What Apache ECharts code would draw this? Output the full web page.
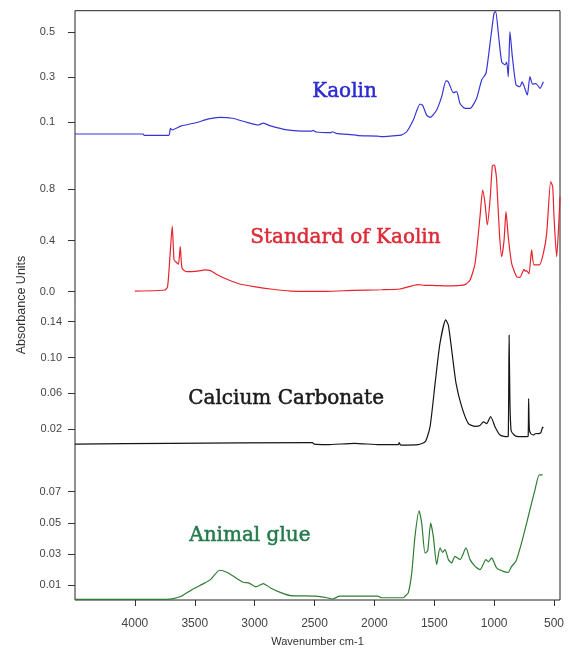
<!DOCTYPE html>
<html>
<head>
<meta charset="utf-8">
<script src="https://cdn.jsdelivr.net/npm/echarts@6/dist/echarts.min.js"></script>
<style>html,body{margin:0;padding:0;background:#fff}#c{width:570px;height:653px}</style>
</head>
<body>
<div id="c"></div>
<script>
// ---- data: [wavenumber cm-1, absorbance] ----
const kaolin = [[4500,0.048],[3931,0.048],[3922,0.042],[3718,0.042],[3703,0.073],[3688,0.066],[3612,0.084],[3490,0.098],[3384,0.115],[3293,0.122],[3186,0.118],[3065,0.100],[2973,0.088],[2928,0.096],[2867,0.084],[2730,0.066],[2608,0.061],[2523,0.061],[2511,0.064],[2487,0.057],[2365,0.054],[2350,0.058],[2320,0.051],[2168,0.044],[2137,0.041],[1970,0.039],[1940,0.036],[1787,0.042],[1772,0.044],[1730,0.058],[1675,0.110],[1619,0.181],[1597,0.175],[1563,0.132],[1535,0.122],[1480,0.155],[1438,0.214],[1402,0.284],[1383,0.280],[1341,0.232],[1313,0.236],[1285,0.184],[1243,0.162],[1201,0.162],[1146,0.207],[1104,0.288],[1068,0.318],[1034,0.451],[1001,0.585],[987,0.592],[965,0.496],[937,0.369],[909,0.355],[895,0.368],[882,0.303],[868,0.503],[848,0.392],[817,0.266],[784,0.258],[767,0.280],[751,0.262],[723,0.221],[701,0.303],[679,0.270],[651,0.272],[617,0.251],[589,0.280]];
const stdKaolin = [[4000,0.005],[3749,0.013],[3727,0.039],[3709,0.248],[3688,0.513],[3673,0.25],[3655,0.23],[3636,0.216],[3621,0.352],[3606,0.183],[3566,0.156],[3475,0.161],[3414,0.17],[3369,0.165],[3308,0.13],[3232,0.097],[3125,0.06],[3004,0.039],[2852,0.019],[2700,0.005],[2396,0.003],[2183,0.01],[1940,0.015],[1787,0.021],[1635,0.055],[1582,0.05],[1483,0.048],[1396,0.045],[1301,0.048],[1243,0.055],[1201,0.091],[1159,0.222],[1118,0.586],[1096,0.794],[1076,0.69],[1057,0.521],[1034,0.716],[1015,0.982],[1000,0.99],[993,0.977],[979,0.873],[956,0.456],[937,0.273],[917,0.404],[901,0.625],[882,0.43],[854,0.222],[812,0.117],[784,0.112],[768,0.14],[751,0.175],[740,0.16],[729,0.165],[709,0.14],[687,0.326],[667,0.209],[623,0.209],[589,0.3],[561,0.456],[528,0.86],[511,0.82],[500,0.586],[478,0.273],[464,0.456],[450,0.742]];
const calcium = [[4500,0.0032],[3703,0.004],[2517,0.0047],[2502,0.003],[2396,0.0025],[2168,0.004],[1955,0.0025],[1800,0.0025],[1793,0.0047],[1781,0.002],[1635,0.0025],[1575,0.0058],[1535,0.0226],[1493,0.071],[1452,0.116],[1404,0.142],[1382,0.136],[1354,0.108],[1318,0.071],[1271,0.045],[1215,0.026],[1159,0.023],[1118,0.024],[1090,0.028],[1062,0.026],[1029,0.034],[993,0.0226],[951,0.0133],[896,0.0114],[882,0.012],[875,0.125],[868,0.05],[858,0.018],[835,0.0136],[812,0.0118],[729,0.0114],[716,0.012],[712,0.054],[706,0.02],[695,0.015],[673,0.0133],[650,0.015],[631,0.0148],[610,0.016],[595,0.022],[590,0.021]];
const glue = [[4500,0.001],[3734,0.001],[3688,0.0013],[3612,0.003],[3521,0.0073],[3430,0.0109],[3369,0.0136],[3293,0.0196],[3232,0.0183],[3156,0.0147],[3095,0.0119],[3050,0.0115],[2989,0.009],[2928,0.0111],[2867,0.0083],[2776,0.0051],[2700,0.0034],[2487,0.003],[2396,0.002],[2350,0.0012],[2289,0.003],[1970,0.003],[1940,0.002],[1757,0.002],[1744,0.003],[1717,0.0051],[1688,0.0179],[1661,0.0413],[1627,0.0577],[1605,0.0498],[1577,0.0307],[1555,0.032],[1530,0.0498],[1508,0.0413],[1480,0.0232],[1452,0.0339],[1430,0.031],[1410,0.0328],[1382,0.0264],[1355,0.0243],[1327,0.0285],[1285,0.0264],[1235,0.0339],[1201,0.0264],[1159,0.0221],[1118,0.02],[1068,0.0264],[1048,0.025],[1021,0.0275],[979,0.0211],[923,0.0189],[882,0.0183],[854,0.0221],[818,0.0253],[771,0.0371],[715,0.054],[659,0.0711],[623,0.0807],[595,0.0807]];

const xTicks = [4000,3500,3000,2500,2000,1500,1000,500];
const kaolinTicks = [0.1,0.3,0.5];
const stdTicks = [0.0,0.4,0.8];
const calciumTicks = [0.02,0.06,0.10,0.14];
const glueTicks = [0.01,0.03,0.05,0.07];
const names = ['Kaolin','Standard of Kaolin','Calcium Carbonate','Animal glue'];

// ---- layout ----
const L = 75, R = 10;
const panels = [
  {top:10.7, h:139.3, min:-0.0231, max:0.596, ticks:kaolinTicks, dec:1, margin:20, data:kaolin, color:'#3636d4'},
  {top:150, h:155, min:-0.104, max:1.107, ticks:stdTicks, dec:1, margin:20, data:stdKaolin, color:'#e8232d'},
  {top:305, h:157, min:-0.0169, max:0.1587, ticks:calciumTicks, dec:2, margin:13, data:calcium, color:'#151515'},
  {top:462, h:138, min:0.00056, max:0.0889, ticks:glueTicks, dec:2, margin:14, data:glue, color:'#2f7d33'}
];
const sans = 'Arial, "Liberation Sans", sans-serif';

const grid=[], xAxis=[], yAxis=[], series=[];
panels.forEach((p,i)=>{
  grid.push({left:L, right:R, top:p.top, height:p.h, containLabel:false});
  const isBottom = i===panels.length-1;
  xAxis.push({
    type:'value', gridIndex:i, min:450, max:4500, inverse:true, show:isBottom,
    axisLine:{show:false}, splitLine:{show:false},
    axisTick:{show:true, customValues:xTicks, length:6, lineStyle:{color:'#333'}},
    axisLabel:{customValues:xTicks, margin:18, fontSize:12, fontFamily:sans, color:'#444', formatter:(v)=>String(v)},
    name: isBottom ? 'Wavenumber cm-1' : '', nameLocation:'middle', nameGap:36,
    nameTextStyle:{fontFamily:sans, fontSize:11, color:'#333'}
  });
  yAxis.push({
    type:'value', gridIndex:i, min:p.min, max:p.max,
    axisLine:{show:false}, splitLine:{show:false},
    axisTick:{show:true, customValues:p.ticks, length:7, lineStyle:{color:'#333'}},
    axisLabel:{customValues:p.ticks, margin:p.margin, fontSize:11, fontFamily:sans, color:'#444', formatter:(v)=>Number(v).toFixed(p.dec)}
  });
  series.push({
    type:'line', xAxisIndex:i, yAxisIndex:i, data:p.data, showSymbol:false, symbol:'none',
    smooth:0.2, lineStyle:{color:p.color, width:1.2}, silent:true, animation:false
  });
});
// frame grid
grid.push({left:L, right:R, top:10.7, height:589.3, show:true, borderColor:'#222', borderWidth:1, backgroundColor:'transparent'});
xAxis.push({type:'value', gridIndex:4, show:false, min:450, max:4500});
yAxis.push({type:'value', gridIndex:4, show:false, min:0, max:1});

const titleFont = '20px "DejaVu Serif", serif';
function title(txt, l, t, c){
  return {type:'text', left:l, top:t, style:{text:txt, font:titleFont, fill:c, stroke:c, lineWidth:0.5}};
}
const chart = echarts.init(document.getElementById('c'), null, {renderer:'canvas'});
chart.setOption({
  animation:false,
  backgroundColor:'#fff',
  grid, xAxis, yAxis, series,
  graphic:[
    title(names[0], 312, 82, '#2b2bd0'),
    title(names[1], 250, 228, '#dc2a36'),
    title(names[2], 188, 389, '#1a1a1a'),
    title(names[3], 189, 526, '#237a4b'),
    {type:'text', x:22, y:305, rotation:Math.PI/2, style:{text:'Absorbance Units', font:'12.5px Arial, "Liberation Sans", sans-serif', fill:'#333', align:'center', verticalAlign:'middle'}}
  ]
});
</script>
</body>
</html>
